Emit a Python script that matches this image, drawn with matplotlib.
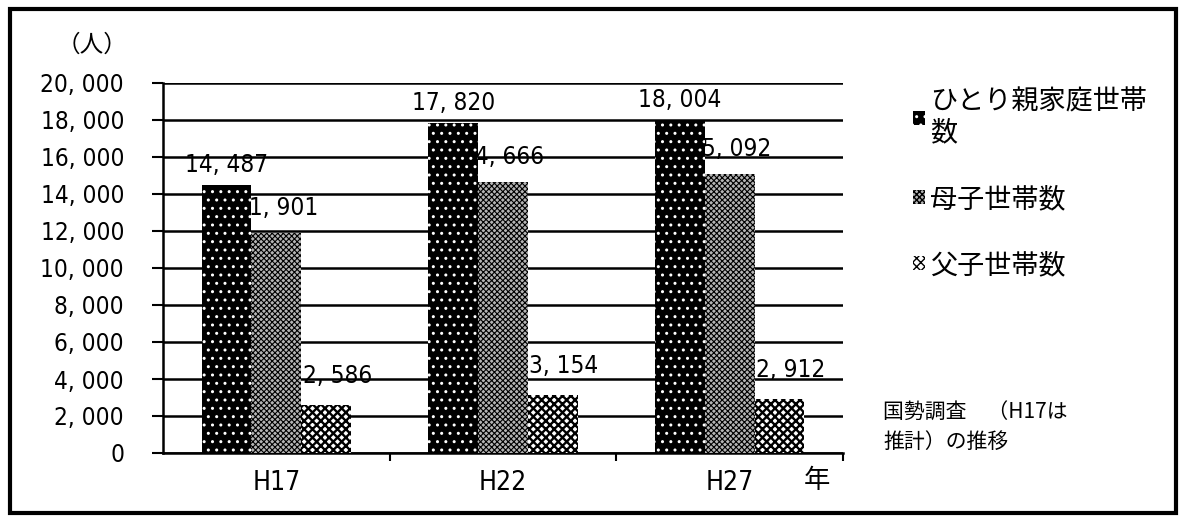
import os
import matplotlib
matplotlib.use("Agg")
import matplotlib.pyplot as plt
import matplotlib.font_manager as fm
from matplotlib.patches import Rectangle
from matplotlib.ticker import FuncFormatter
import numpy as np

years = ["H17", "H22", "H27"]
series_names = ["ひとり親家庭世帯\n数", "母子世帯数", "父子世帯数"]
single_parent = [14487, 17820, 18004]
mother_child = [11901, 14666, 15092]
father_child = [2586, 3154, 2912]
y_ticks = [0, 2000, 4000, 6000, 8000, 10000, 12000, 14000, 16000, 18000, 20000]


def narrow_font():
    """Pick a condensed sans for the numerals, if one is installed."""
    for f in fm.fontManager.ttflist:
        base = os.path.basename(f.fname)
        if ("Narrow" in base or "Condensed" in base) and f.weight in (400, "normal", "regular") \
                and f.style == "normal" and "Mono" not in base and "Serif" not in base \
                and "Bold" not in base and "Light" not in base:
            return f.name, f.stretch
    return None, None


nf_name, nf_stretch = narrow_font()
if nf_name:
    num_family, num_stretch, num_size = nf_name, nf_stretch, 17.5
else:
    num_family, num_stretch, num_size = "Liberation Sans", "normal", 15.5

plt.rcParams["font.family"] = [num_family, "Noto Sans CJK JP", "DejaVu Sans"]
plt.rcParams["font.stretch"] = num_stretch
jp = ["Noto Sans CJK JP", "DejaVu Sans"]


def fmt(v):
    return f"{int(v):,}".replace(",", ", ")


fig = plt.figure(figsize=(11.83, 5.23), dpi=100)
ax = fig.add_axes([163 / 1183, 1 - 453 / 523, 680 / 1183, 370 / 523])

x = np.arange(len(years))
w = 0.22
series = [single_parent, mother_child, father_child]
styles = [
    dict(facecolor="black", hatch="..", hlw=1.0, hcolor="white", off=(0, 6)),
    dict(facecolor="#b4b4b4", hatch="xxxxxx", hlw=0.8, hcolor="black", off=(0, 9)),
    dict(facecolor="white", hatch="xxxx", hlw=1.7, hcolor="black", off=(8, 12)),
]
handles = []
for i, (vals, st) in enumerate(zip(series, styles)):
    with plt.rc_context({"hatch.linewidth": st["hlw"]}):
        bars = ax.bar(x + (i - 1) * w, vals, w, facecolor=st["facecolor"],
                      edgecolor=st["hcolor"], hatch=st["hatch"], linewidth=0,
                      zorder=3, label=series_names[i])
    for b in bars:
        try:
            b.set_hatch_linewidth(st["hlw"])
        except AttributeError:
            pass
    handles.append(bars)
    for xi, v in zip(x + (i - 1) * w, vals):
        ax.annotate(fmt(v), (xi, v), xytext=st["off"], textcoords="offset points",
                    ha="center", va="bottom", fontsize=num_size, zorder=1)

ax.set_xlim(-0.5, 2.5)
ax.set_ylim(0, 20000)
ax.set_yticks(y_ticks)
ax.yaxis.set_major_formatter(FuncFormatter(lambda v, p: fmt(v)))
ax.set_xticks(x)
ax.set_xticklabels(years)
ax.set_xticks([0.5, 1.5, 2.5], minor=True)
ax.tick_params(axis="x", which="major", length=0, labelsize=num_size + 1.5, pad=12)
ax.tick_params(axis="x", which="minor", length=6, width=1.5, direction="out")
ax.tick_params(axis="y", length=8, width=1.5, labelsize=num_size, pad=20)
ax.grid(axis="y", color="black", linewidth=1.8, zorder=0)
for s in ["top", "right"]:
    ax.spines[s].set_visible(False)
ax.spines["left"].set_linewidth(1.8)
ax.spines["bottom"].set_linewidth(1.8)

ax.text(-0.104, 1.103, "（人）", transform=ax.transAxes, fontsize=17,
        family=jp, ha="center", va="center")
ax.text(0.962, -0.075, "年", transform=ax.transAxes, fontsize=19,
        family=jp, ha="center", va="center")

leg = fig.legend(handles=handles, labels=series_names, loc="upper left",
                 bbox_to_anchor=(889 / 1183, 1 - 64 / 523), frameon=False,
                 prop=fm.FontProperties(family=jp, size=19.5),
                 handlelength=0.42, handleheight=0.42, handletextpad=0.2,
                 labelspacing=1.45)

fig.text(883 / 1183, 1 - 412 / 523, "国勢調査　（H17は", fontsize=15,
         family=jp, va="center")
fig.text(883 / 1183, 1 - 442 / 523, "推計）の推移", fontsize=15,
         family=jp, va="center")

fig.add_artist(Rectangle((10 / 1183, 10 / 523), 1166 / 1183, 504 / 523,
                         transform=fig.transFigure, fill=False,
                         edgecolor="black", linewidth=3))

fig.savefig("out.png", dpi=100)
